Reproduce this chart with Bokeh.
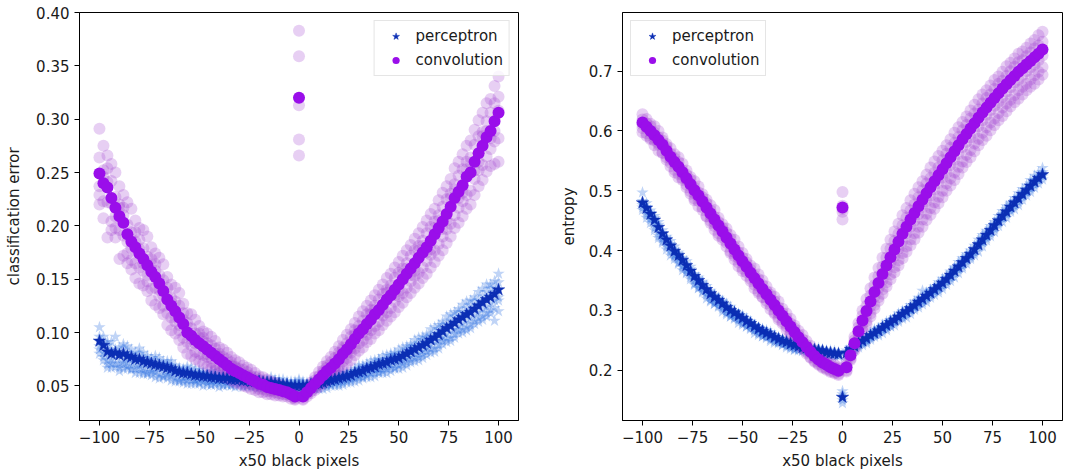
from bokeh.plotting import figure
from bokeh.layouts import row
from bokeh.models import (Range1d, FixedTicker, CustomJSTickFormatter, Legend,
                          LegendItem, ColumnDataSource)
from bokeh.embed import file_html
from bokeh.resources import INLINE

# ---------------- data ----------------
X_MEAN = list(range(-100, 101, 2))      # x positions of the mean curves
X_RUNS_A = list(range(-100, 101, 4))    # x positions of run set A
X_RUNS_B = list(range(-98, 99, 4))      # x positions of run set B
X_TICKS = [-100, -75, -50, -25, 0, 25, 50, 75, 100]
ERR_TICKS = [0.05, 0.10, 0.15, 0.20, 0.25, 0.30, 0.35, 0.40]
ENT_TICKS = [0.2, 0.3, 0.4, 0.5, 0.6, 0.7]

conv_error_mean = [
    0.249, 0.240, 0.236, 0.226, 0.217, 0.209, 0.203, 0.192, 0.185, 0.180,
    0.174, 0.169, 0.163, 0.157, 0.152, 0.146, 0.139, 0.131, 0.125, 0.120,
    0.114, 0.108, 0.100, 0.097, 0.093, 0.090, 0.087, 0.084, 0.081, 0.078,
    0.075, 0.072, 0.069, 0.066, 0.064, 0.062, 0.060, 0.058, 0.056, 0.054,
    0.052, 0.051, 0.049, 0.048, 0.047, 0.046, 0.045, 0.044, 0.042, 0.040,
    0.320, 0.040, 0.044, 0.048, 0.052, 0.056, 0.060, 0.064, 0.067, 0.071,
    0.075, 0.080, 0.084, 0.089, 0.094, 0.099, 0.103, 0.108, 0.112, 0.117,
    0.121, 0.126, 0.131, 0.135, 0.140, 0.145, 0.150, 0.155, 0.160, 0.165,
    0.170, 0.175, 0.180, 0.186, 0.192, 0.198, 0.204, 0.211, 0.218, 0.226,
    0.232, 0.238, 0.246, 0.250, 0.260, 0.268, 0.275, 0.283, 0.289, 0.298,
    0.306]

perc_error_mean = [
    0.092, 0.088, 0.082, 0.080, 0.081, 0.079, 0.080, 0.078, 0.077, 0.075,
    0.075, 0.073, 0.072, 0.071, 0.070, 0.069, 0.068, 0.067, 0.066, 0.064,
    0.063, 0.062, 0.062, 0.061, 0.060, 0.060, 0.059, 0.059, 0.058, 0.058,
    0.057, 0.057, 0.057, 0.056, 0.056, 0.056, 0.055, 0.055, 0.054, 0.054,
    0.054, 0.053, 0.053, 0.053, 0.052, 0.052, 0.051, 0.051, 0.050, 0.050,
    0.050, 0.050, 0.050, 0.051, 0.052, 0.052, 0.053, 0.054, 0.055, 0.056,
    0.057, 0.058, 0.059, 0.060, 0.062, 0.063, 0.064, 0.066, 0.067, 0.068,
    0.070, 0.071, 0.072, 0.074, 0.075, 0.076, 0.078, 0.080, 0.082, 0.084,
    0.086, 0.088, 0.090, 0.093, 0.095, 0.098, 0.101, 0.104, 0.106, 0.109,
    0.112, 0.114, 0.117, 0.119, 0.122, 0.125, 0.128, 0.131, 0.133, 0.136,
    0.140]

conv_entropy_mean = [
    0.614, 0.607, 0.600, 0.593, 0.585, 0.577, 0.567, 0.557, 0.548, 0.540,
    0.531, 0.521, 0.511, 0.501, 0.492, 0.482, 0.472, 0.462, 0.452, 0.442,
    0.432, 0.422, 0.412, 0.402, 0.392, 0.382, 0.373, 0.363, 0.354, 0.345,
    0.336, 0.327, 0.318, 0.309, 0.300, 0.291, 0.282, 0.273, 0.264, 0.255,
    0.247, 0.239, 0.231, 0.224, 0.218, 0.213, 0.209, 0.205, 0.202, 0.199,
    0.472, 0.205, 0.225, 0.245, 0.265, 0.283, 0.299, 0.315, 0.331, 0.346,
    0.361, 0.375, 0.389, 0.402, 0.415, 0.428, 0.440, 0.452, 0.463, 0.474,
    0.485, 0.496, 0.506, 0.516, 0.526, 0.536, 0.546, 0.556, 0.566, 0.576,
    0.586, 0.595, 0.604, 0.613, 0.622, 0.631, 0.639, 0.647, 0.655, 0.663,
    0.671, 0.678, 0.685, 0.692, 0.699, 0.705, 0.711, 0.717, 0.723, 0.729,
    0.736]

perc_entropy_mean = [
    0.480, 0.471, 0.461, 0.451, 0.439, 0.428, 0.418, 0.408, 0.399, 0.392,
    0.384, 0.375, 0.366, 0.357, 0.350, 0.342, 0.335, 0.328, 0.322, 0.317,
    0.311, 0.305, 0.300, 0.296, 0.291, 0.287, 0.282, 0.278, 0.273, 0.269,
    0.265, 0.262, 0.259, 0.255, 0.252, 0.249, 0.247, 0.244, 0.242, 0.240,
    0.238, 0.237, 0.235, 0.234, 0.233, 0.232, 0.230, 0.229, 0.228, 0.227,
    0.155, 0.229, 0.235, 0.240, 0.245, 0.249, 0.253, 0.258, 0.262, 0.266,
    0.271, 0.275, 0.280, 0.284, 0.289, 0.294, 0.298, 0.303, 0.308, 0.314,
    0.319, 0.324, 0.329, 0.335, 0.340, 0.346, 0.352, 0.359, 0.366, 0.373,
    0.380, 0.387, 0.394, 0.402, 0.410, 0.418, 0.426, 0.434, 0.442, 0.450,
    0.458, 0.465, 0.473, 0.480, 0.487, 0.494, 0.501, 0.508, 0.515, 0.521,
    0.527]

# individual runs: offsets from the mean, in thousandths.
# set A at X_RUNS_A (51 values), set B at X_RUNS_B (50 values)
conv_error_runs_a = [
    [42, 30, 33, 26, 31, 24, 27, 22, 25, 20, 23, 18, 19, 14, 15, 11, 12, 10, 9, 9, 7, 7, 6, 5, 4,
     63,
     4, 6, 8, 10, 12, 14, 15, 17, 18, 19, 20, 21, 22, 22, 23, 25, 24, 27, 26, 28, 29, 30, 31, 30, 34],
    [15, 18, 10, 14, 9, 13, 8, 12, 10, 7, 11, 9, 6, 8, 7, 5, 6, 4, 5, 3, 4, 3, 3, 2, 2,
     39,
     2, 3, 4, 5, 6, 6, 8, 8, 9, 10, 9, 11, 10, 12, 11, 13, 12, 14, 12, 15, 14, 16, 13, 17, 15],
    [-12, 5, -8, 7, -6, 4, -9, 6, -4, 3, -7, 5, -3, 4, -5, 2, -3, 3, -2, 1, -2, 2, -1, 1, 0,
     -7,
     1, -2, 2, -3, 3, -4, 4, -3, 5, -4, 6, -5, 5, -6, 7, -5, 6, -7, 8, -6, 7, -8, 9, -7, 2],
    [-20, -14, -19, -12, -17, -13, -15, -10, -14, -11, -12, -9, -11, -8, -9, -6, -7, -5, -6, -4, -5, -4, -3, -3, -2,
     -39,
     -2, -4, -5, -6, -7, -8, -9, -10, -10, -11, -12, -11, -13, -12, -14, -13, -15, -14, -16, -15, -17, -16, -18, -17, -24],
    [-29, -47, -28, -31, -26, -28, -24, -26, -22, -23, -21, -20, -18, -16, -15, -13, -12, -11, -10, -9, -8, -7, -6, -5, -4,
     -54,
     -4, -6, -8, -10, -12, -14, -15, -17, -18, -19, -20, -21, -22, -23, -24, -25, -26, -27, -28, -29, -30, -31, -32, -33, -46],
]
conv_error_runs_b = [
    [35, 32, 28, 30, 25, 27, 23, 24, 21, 22, 19, 20, 16, 15, 14, 12, 11, 10, 9, 8, 7, 6, 5, 4, 3,
     4, 5, 7, 9, 11, 13, 14, 16, 17, 18, 19, 20, 21, 22, 23, 24, 25, 26, 26, 28, 29, 30, 31, 32, 33],
    [12, 16, 11, 9, 14, 10, 12, 8, 11, 9, 10, 7, 9, 6, 7, 5, 6, 4, 5, 4, 3, 3, 2, 2, 1,
     2, 3, 3, 5, 5, 6, 7, 7, 9, 8, 10, 9, 11, 10, 12, 11, 13, 12, 14, 13, 15, 14, 16, 15, 17],
    [6, -5, 8, -7, 5, -4, 7, -6, 3, -5, 4, -3, 5, -4, 2, -3, 3, -2, 2, -1, 1, -2, 1, 0, -1,
     0, 2, -2, 3, -3, 4, -4, 3, -5, 4, -5, 6, -6, 5, -7, 6, -8, 7, -6, 8, -7, 9, -8, 6, -9],
    [-17, -22, -13, -18, -15, -11, -16, -12, -13, -10, -13, -9, -10, -7, -8, -6, -7, -5, -5, -4, -4, -3, -3, -2, -2,
     -2, -3, -4, -5, -6, -7, -8, -9, -10, -11, -10, -12, -11, -13, -12, -14, -13, -15, -14, -16, -15, -17, -16, -18, -19],
    [-33, -30, -40, -27, -29, -25, -27, -23, -24, -21, -22, -19, -17, -16, -14, -13, -11, -10, -9, -8, -7, -6, -5, -4, -3,
     -3, -5, -7, -9, -11, -13, -15, -16, -17, -18, -19, -20, -21, -22, -23, -24, -25, -26, -27, -28, -29, -30, -31, -32, -40],
]

perc_error_runs_a = [
    [13, 6, 15, 9, 7, 10, 6, 8, 5, 7, 4, 6, 5, 4, 6, 5, 3, 5, 4, 3, 4, 3, 4, 5, 4,
     4,
     3, 4, 3, 4, 5, 3, 4, 5, 6, 5, 7, 6, 8, 7, 9, 8, 10, 9, 11, 10, 12, 11, 13, 12, 15],
    [4, 9, 3, 6, 2, 5, 3, 4, 2, 3, 2, 3, 1, 2, 3, 1, 2, 1, 2, 1, 2, 1, 2, 1, 2,
     6,
     1, 2, 1, 2, 1, 3, 2, 3, 2, 4, 3, 4, 3, 5, 4, 5, 4, 6, 5, 7, 6, 7, 6, 8, 7],
    [-5, -8, -4, -7, -5, -6, -4, -5, -3, -4, -2, -3, -4, -2, -3, -1, -2, -3, -1, -2, -1, -2, 0, -1, 1,
     -2,
     0, -1, -2, -1, -2, -1, -2, -3, -2, -4, -3, -2, -4, -3, -5, -4, -3, -5, -4, -6, -5, -4, -6, -5, -7],
    [-8, -12, -10, -9, -11, -8, -10, -7, -9, -6, -8, -7, -6, -5, -7, -5, -6, -4, -5, -4, -5, -3, -4, -3, -2,
     -3,
     -3, -4, -3, -4, -5, -4, -5, -6, -5, -7, -6, -8, -7, -8, -9, -8, -10, -9, -11, -10, -12, -11, -13, -12, -10],
    [-12, -15, -13, -14, -12, -13, -11, -12, -10, -11, -9, -10, -8, -9, -7, -8, -6, -7, -6, -5, -6, -4, -5, -3, -4,
     -5,
     -4, -5, -6, -5, -7, -6, -8, -7, -9, -8, -10, -9, -11, -10, -12, -11, -13, -12, -14, -13, -15, -14, -16, -15, -20],
]
perc_error_runs_b = [
    [8, 11, 7, 9, 6, 8, 5, 7, 6, 5, 4, 6, 5, 3, 5, 4, 3, 4, 3, 4, 3, 5, 4, 3, 4,
     4, 3, 4, 5, 4, 5, 4, 6, 5, 6, 7, 6, 8, 7, 9, 8, 10, 9, 11, 10, 12, 11, 13, 14, 12],
    [2, 4, 1, 3, 2, 3, 1, 2, 3, 1, 2, 1, 2, 1, 1, 2, 1, 1, 2, 1, 1, 2, 1, 1, 2,
     2, 1, 2, 1, 2, 2, 1, 3, 2, 3, 2, 4, 3, 4, 3, 5, 4, 5, 4, 6, 5, 6, 5, 7, 6],
    [-7, -5, -8, -6, -4, -6, -5, -3, -4, -3, -4, -2, -3, -3, -2, -2, -1, -2, -2, -1, -1, -1, 0, -1, 0,
     0, -1, -1, -2, -1, -2, -2, -3, -2, -3, -3, -4, -3, -4, -4, -5, -4, -5, -5, -6, -5, -6, -6, -7, -6],
    [-11, -9, -12, -10, -9, -10, -8, -9, -7, -8, -7, -6, -7, -6, -5, -6, -5, -4, -5, -4, -4, -3, -3, -2, -3,
     -3, -3, -4, -4, -4, -5, -5, -5, -6, -6, -7, -7, -7, -8, -8, -9, -9, -10, -10, -11, -11, -12, -12, -13, -13],
    [-14, -13, -15, -12, -13, -12, -11, -12, -10, -10, -9, -9, -8, -8, -7, -7, -6, -6, -5, -5, -5, -4, -4, -4, -3,
     -4, -5, -5, -6, -6, -7, -7, -8, -8, -9, -9, -10, -10, -11, -11, -12, -12, -13, -13, -14, -14, -15, -15, -16, -25],
]

conv_entropy_runs_a = [
    [14, 12, 15, 11, 13, 14, 12, 15, 13, 16, 12, 14, 15, 13, 16, 14, 12, 15, 13, 11, 12, 10, 9, 8, 7,
     26,
     8, 14, 20, 24, 27, 29, 30, 31, 32, 31, 33, 32, 30, 31, 29, 30, 31, 29, 30, 28, 29, 30, 28, 29, 30],
    [5, 8, 4, 7, 6, 3, 8, 5, 7, 4, 6, 8, 5, 7, 4, 6, 8, 5, 4, 6, 5, 4, 3, 4, 3,
     3,
     4, 7, 9, 11, 12, 14, 13, 15, 14, 16, 15, 13, 16, 14, 15, 17, 14, 16, 15, 13, 15, 16, 14, 15, 13],
    [-3, 0, -5, 2, -2, -4, 1, -3, 0, -5, 2, -1, -4, 1, -2, -3, 0, -4, 1, -2, -1, 0, -2, 1, -1,
     -2,
     -2, -4, -6, -8, -10, -9, -12, -11, -13, -12, -14, -13, -15, -14, -13, -15, -14, -12, -13, -14, -12, -13, -11, -12, -10],
    [-9, -12, -8, -11, -13, -10, -12, -9, -14, -11, -10, -13, -12, -9, -11, -14, -10, -12, -9, -11, -8, -9, -7, -6, -5,
     -7,
     -6, -12, -17, -22, -26, -29, -31, -33, -34, -33, -35, -36, -34, -35, -37, -36, -35, -33, -34, -32, -33, -31, -32, -30, -29],
    [-16, -14, -18, -15, -17, -13, -16, -18, -15, -17, -14, -16, -18, -15, -17, -13, -16, -15, -14, -12, -11, -10, -9, -8, -7,
     -20,
     -8, -15, -22, -28, -33, -37, -40, -42, -44, -45, -46, -47, -46, -48, -47, -48, -46, -47, -45, -46, -44, -45, -43, -44, -42],
]
conv_entropy_runs_b = [
    [13, 15, 12, 14, 16, 13, 15, 12, 14, 13, 15, 16, 14, 12, 15, 13, 14, 12, 13, 11, 10, 9, 8, 7, 6,
     7, 11, 17, 22, 25, 28, 30, 31, 32, 32, 31, 33, 31, 30, 30, 29, 31, 30, 29, 28, 30, 29, 28, 29, 31],
    [6, 4, 7, 5, 8, 6, 4, 7, 5, 6, 8, 4, 6, 5, 7, 5, 6, 4, 5, 4, 3, 4, 3, 2, 3,
     3, 5, 8, 10, 11, 13, 14, 14, 15, 15, 16, 14, 15, 16, 14, 15, 16, 15, 14, 16, 14, 15, 13, 14, 14],
    [-1, -4, 1, -3, 0, -2, -5, 1, -3, -1, 0, -4, -2, 1, -3, -1, -2, 0, -3, -1, 0, -2, -1, 0, -1,
     -1, -3, -5, -7, -9, -10, -11, -12, -12, -13, -13, -14, -14, -13, -14, -13, -15, -13, -12, -14, -12, -11, -12, -11, -11],
    [-11, -9, -13, -10, -12, -11, -14, -10, -12, -13, -9, -11, -12, -10, -13, -11, -12, -10, -11, -9, -8, -8, -7, -6, -5,
     -5, -9, -14, -20, -24, -28, -30, -32, -33, -34, -34, -35, -36, -35, -36, -35, -34, -34, -33, -33, -32, -32, -31, -31, -30],
    [-15, -17, -14, -16, -18, -15, -17, -14, -16, -17, -15, -17, -16, -14, -16, -15, -14, -13, -13, -12, -11, -10, -9, -8, -7,
     -7, -12, -18, -25, -30, -35, -38, -41, -43, -44, -45, -46, -47, -47, -48, -47, -47, -46, -46, -45, -45, -44, -44, -43, -43],
]

perc_entropy_runs_a = [
    [17, 6, 9, 5, 8, 4, 7, 5, 6, 4, 5, 6, 4, 5, 3, 4, 5, 3, 4, 3, 4, 3, 4, 3, 4,
     10,
     4, 5, 4, 6, 5, 4, 6, 5, 7, 14, 6, 7, 5, 6, 7, 6, 8, 7, 6, 8, 7, 9, 8, 10, 11],
    [3, 2, 4, 2, 3, 1, 3, 2, 1, 2, 3, 1, 2, 1, 2, 3, 1, 2, 1, 2, 1, 2, 1, 2, 1,
     5,
     2, 1, 2, 3, 2, 3, 1, 2, 3, 2, 4, 3, 2, 4, 3, 2, 3, 4, 2, 3, 4, 3, 2, 3, 4],
    [-8, -10, -14, -11, -9, -12, -10, -13, -9, -11, -8, -10, -7, -9, -6, -8, -7, -5, -6, -7, -5, -4, -3, -4, -2,
     0,
     -3, -4, -5, -3, -4, -6, -5, -4, -3, -5, -4, -6, -5, -4, -6, -5, -3, -5, -6, -4, -5, -6, -4, -5, -3],
    [-12, -15, -18, -16, -13, -17, -14, -12, -15, -11, -13, -10, -12, -9, -11, -8, -10, -7, -9, -8, -6, -7, -5, -6, -4,
     -5,
     -6, -7, -8, -6, -9, -7, -8, -10, -7, -9, -8, -10, -9, -11, -10, -8, -12, -9, -11, -10, -8, -11, -9, -10, -8],
    [-4, -6, -8, -5, -7, -9, -6, -8, -5, -7, -4, -6, -5, -3, -5, -4, -3, -4, -2, -3, -2, -1, -2, 0, -1,
     -10,
     -1, -2, -3, -1, -2, -3, -2, -1, -3, -2, -1, -3, -2, -1, -2, -3, -1, -2, -3, -1, -2, -1, -3, -2, -1],
]
perc_entropy_runs_b = [
    [8, 7, 6, 8, 5, 7, 4, 6, 5, 4, 6, 3, 5, 4, 3, 5, 4, 3, 4, 3, 3, 4, 3, 4, 3,
     4, 4, 5, 5, 4, 6, 5, 5, 6, 7, 6, 5, 7, 6, 8, 7, 6, 8, 7, 8, 9, 8, 9, 10, 9],
    [2, 3, 1, 3, 2, 2, 1, 3, 2, 1, 2, 2, 1, 2, 1, 2, 2, 1, 1, 2, 1, 1, 2, 1, 1,
     1, 2, 2, 1, 3, 2, 2, 3, 2, 3, 3, 2, 3, 4, 3, 3, 2, 4, 3, 3, 4, 3, 3, 4, 3],
    [-11, -13, -12, -10, -12, -11, -12, -10, -11, -9, -9, -8, -8, -7, -7, -6, -6, -6, -5, -5, -4, -4, -3, -3, -2,
     -3, -4, -4, -4, -5, -5, -4, -5, -4, -5, -5, -4, -5, -5, -5, -4, -5, -5, -5, -4, -5, -5, -4, -5, -4],
    [-16, -17, -15, -16, -14, -13, -14, -12, -13, -11, -12, -10, -11, -9, -10, -8, -9, -7, -8, -7, -6, -6, -5, -5, -4,
     -5, -6, -7, -7, -8, -8, -9, -8, -9, -9, -10, -9, -10, -10, -11, -9, -10, -11, -10, -9, -10, -11, -9, -10, -9],
    [-6, -5, -7, -6, -5, -7, -6, -5, -6, -4, -5, -4, -3, -4, -3, -3, -2, -3, -2, -2, -1, -2, -1, -1, 0,
     -1, -1, -2, -2, -1, -2, -2, -1, -2, -2, -1, -2, -2, -1, -2, -2, -1, -2, -1, -2, -2, -1, -2, -1, -2],
]

# ---------------- style ----------------
FONT = "DejaVu Sans"
FS = "15px"
PERC_DARK = "#0b2eb4"
PERC_LIGHT = "#3070e0"
CONV_DARK = "#9a0eea"
CONV_LIGHT = "#a040d0"


def runs_source(mean, runs_a, runs_b):
    xs, ys = [], []
    for ra, rb in zip(runs_a, runs_b):
        for i, d in enumerate(ra):
            xs.append(X_RUNS_A[i])
            ys.append(mean[2 * i] + d / 1000.0)
        for j, d in enumerate(rb):
            xs.append(X_RUNS_B[j])
            ys.append(mean[2 * j + 1] + d / 1000.0)
    return ColumnDataSource(dict(x=xs, y=ys))


def panel(perc_mean, perc_a, perc_b, conv_mean, conv_a, conv_b, ylabel, yr,
          yticks, ydigits, legend_loc, width, bl, br, label_standoff):
    p = figure(width=width, height=472, output_backend="svg",
               toolbar_location=None, x_range=Range1d(-110, 110),
               y_range=Range1d(*yr), min_border_left=bl, min_border_right=br,
               min_border_top=12, min_border_bottom=51)
    p.xgrid.visible = False
    p.ygrid.visible = False
    p.outline_line_color = "black"
    p.outline_line_width = 1
    p.background_fill_color = "white"
    p.border_fill_color = "white"

    p.xaxis.ticker = FixedTicker(ticks=X_TICKS)
    p.xaxis.formatter = CustomJSTickFormatter(
        code="return (tick < 0 ? '\\u2212' : '') + Math.abs(tick).toString();")
    p.yaxis.ticker = FixedTicker(ticks=yticks)
    p.yaxis.formatter = CustomJSTickFormatter(
        code="return tick.toFixed(%d);" % ydigits)
    p.xaxis.axis_label = "x50 black pixels"
    p.yaxis.axis_label = ylabel
    for ax in (p.xaxis[0], p.yaxis[0]):
        ax.major_tick_out = 5
        ax.major_tick_in = 0
        ax.minor_tick_out = 0
        ax.minor_tick_in = 0
        ax.major_tick_line_color = "black"
        ax.axis_line_color = "black"
        ax.major_label_text_font = FONT
        ax.major_label_text_font_size = FS
        ax.major_label_text_color = "#1a1a1a"
        ax.axis_label_text_font = FONT
        ax.axis_label_text_font_size = FS
        ax.axis_label_text_font_style = "normal"
        ax.axis_label_text_color = "#1a1a1a"
        ax.major_label_standoff = 5
    p.xaxis.axis_label_standoff = 6
    p.yaxis.axis_label_standoff = label_standoff

    p.scatter("x", "y", source=runs_source(perc_mean, perc_a, perc_b),
              marker="star", size=13, fill_color=PERC_LIGHT, line_color=None,
              fill_alpha=0.3)
    p.scatter("x", "y", source=runs_source(conv_mean, conv_a, conv_b),
              marker="circle", size=12, fill_color=CONV_LIGHT, line_color=None,
              fill_alpha=0.25)
    r_perc = p.scatter(X_MEAN, perc_mean, marker="star", size=13,
                       fill_color=PERC_DARK, line_color=PERC_DARK, line_width=0.5)
    r_conv = p.scatter(X_MEAN, conv_mean, marker="circle", size=12,
                       fill_color=CONV_DARK, line_color=None)

    legend = Legend(items=[LegendItem(label="perceptron", renderers=[r_perc]),
                           LegendItem(label="convolution", renderers=[r_conv])],
                    location=legend_loc)
    legend.label_text_font = FONT
    legend.label_text_font_size = FS
    legend.label_text_color = "#1a1a1a"
    legend.border_line_color = "#cccccc"
    legend.border_line_width = 1
    legend.background_fill_alpha = 0.8
    legend.glyph_width = 30
    legend.glyph_height = 18
    legend.label_height = 18
    legend.label_standoff = 5
    legend.spacing = 6
    legend.padding = 6
    legend.margin = 8
    p.add_layout(legend)
    return p


p1 = panel(perc_error_mean, perc_error_runs_a, perc_error_runs_b,
           conv_error_mean, conv_error_runs_a, conv_error_runs_b,
           "classification error", (0.0175, 0.40), ERR_TICKS, 2, "top_right",
           540, 79, 22, 10)
p2 = panel(perc_entropy_mean, perc_entropy_runs_a, perc_entropy_runs_b,
           conv_entropy_mean, conv_entropy_runs_a, conv_entropy_runs_b,
           "entropy", (0.116, 0.798), ENT_TICKS, 1, "top_left", 536, 82, 14, 8)

layout = row(p1, p2)
open("out.html", "w").write(file_html(layout, INLINE))
